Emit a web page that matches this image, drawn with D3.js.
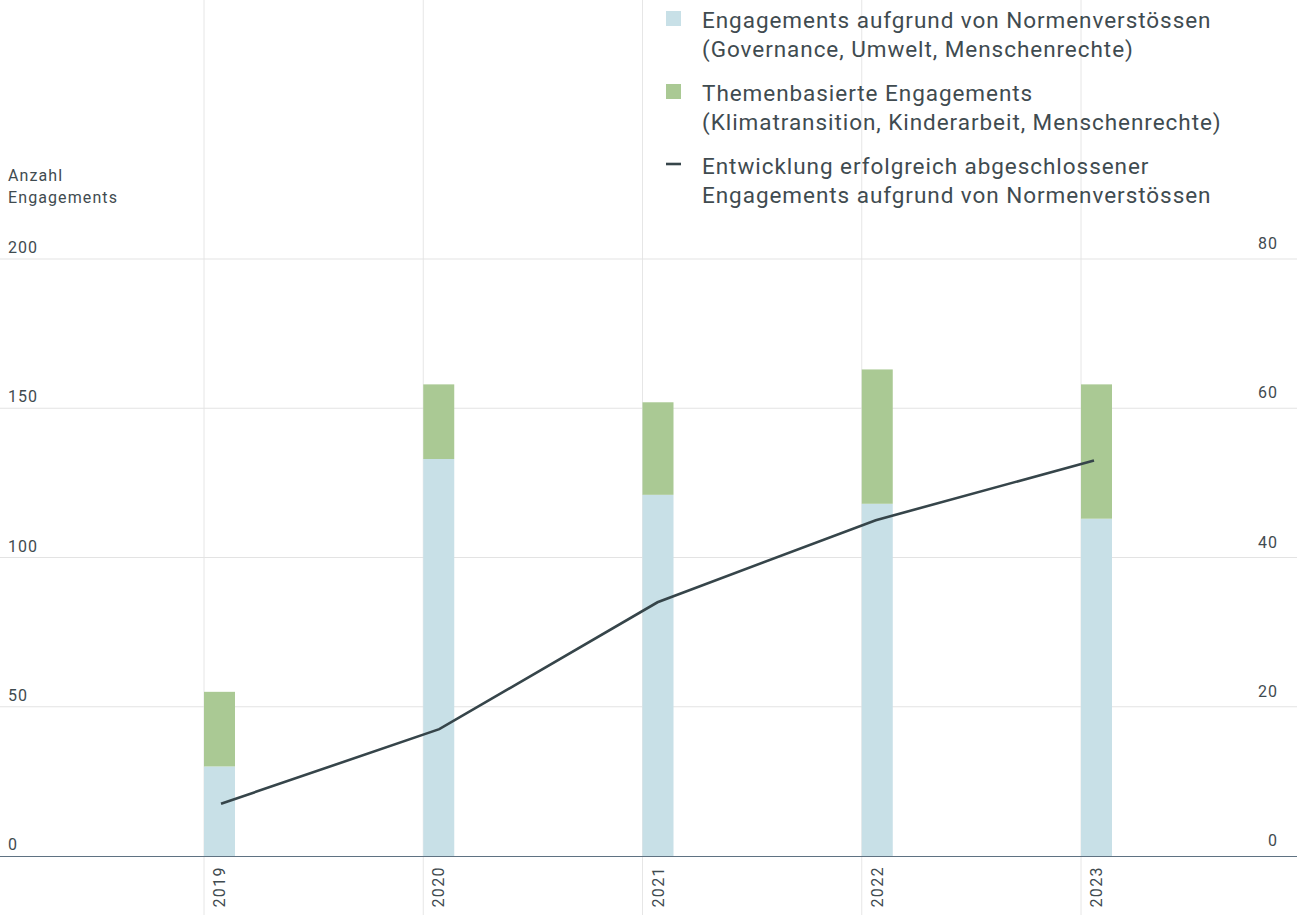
<!DOCTYPE html>
<html><head><meta charset="utf-8">
<script src="https://cdn.jsdelivr.net/npm/d3@7/dist/d3.min.js"></script>
<style>
html,body{margin:0;padding:0;background:#fff;overflow:hidden;}
svg{display:block;font-family:Roboto,"Noto Sans",sans-serif;}
</style></head>
<body>
<script>
const years = ["2019","2020","2021","2022","2023"];
const normBased = [30, 133, 121, 118, 113];
const themeBased = [25, 25, 31, 45, 45];
const completed = [7, 17, 34, 45, 53];
const leftTicks = [0, 50, 100, 150, 200];
const rightTicks = [0, 20, 40, 60, 80];
const legendItems = [
  {type:"rect", color:"#c8e0e7", lines:["Engagements aufgrund von Normenverstössen","(Governance, Umwelt, Menschenrechte)"]},
  {type:"rect", color:"#aac994", lines:["Themenbasierte Engagements","(Klimatransition, Kinderarbeit, Menschenrechte)"]},
  {type:"line", color:"#36454a", lines:["Entwicklung erfolgreich abgeschlossener","Engagements aufgrund von Normenverstössen"]}
];

const W = 1297, H = 915;
const textColor = "#3f4b50";
const svg = d3.select("body").append("svg").attr("width", W).attr("height", H);

const x = d3.scalePoint().domain(years).range([204, 1081]);
const barW = 31;
const yL = d3.scaleLinear().domain([0, 200]).range([856, 259]);
const yR = d3.scaleLinear().domain([0, 80]).range([856, 259]);

// vertical gridlines
svg.append("g").selectAll("line").data(years).join("line")
  .attr("x1", d => x(d)).attr("x2", d => x(d))
  .attr("y1", 0).attr("y2", H)
  .attr("stroke", "#e6e6e6").attr("stroke-width", 1);

// horizontal gridlines
svg.append("g").selectAll("line").data(leftTicks.filter(t => t > 0)).join("line")
  .attr("x1", 0).attr("x2", W)
  .attr("y1", d => yL(d)).attr("y2", d => yL(d))
  .attr("stroke", "#e3e3e3").attr("stroke-width", 1);

// left tick labels
svg.append("g").selectAll("text").data(leftTicks).join("text")
  .attr("x", 8).attr("y", d => yL(d) - 6)
  .attr("fill", textColor).attr("font-size", 16).attr("letter-spacing", 1)
  .text(d => d);

// right tick labels
svg.append("g").selectAll("text").data(rightTicks).join("text")
  .attr("x", 1278).attr("y", d => yR(d) - 10)
  .attr("text-anchor", "end")
  .attr("fill", textColor).attr("font-size", 16).attr("letter-spacing", 1)
  .text(d => d);

// left axis title
svg.append("text").attr("x", 8).attr("y", 181)
  .attr("fill", textColor).attr("font-size", 16).attr("letter-spacing", 1.1)
  .selectAll("tspan").data(["Anzahl", "Engagements"]).join("tspan")
  .attr("x", 8).attr("dy", (d, i) => i ? 22 : 0).text(d => d);

// bars
const stack = years.map((yr, i) => ({yr, n: normBased[i], t: themeBased[i]}));
const gb = svg.append("g");
gb.selectAll("rect.n").data(stack).join("rect").attr("class", "n")
  .attr("x", d => x(d.yr)).attr("width", barW)
  .attr("y", d => yL(d.n)).attr("height", d => yL(0) - yL(d.n))
  .attr("fill", "#c8e0e7");
gb.selectAll("rect.t").data(stack).join("rect").attr("class", "t")
  .attr("x", d => x(d.yr)).attr("width", barW)
  .attr("y", d => yL(d.n + d.t)).attr("height", d => yL(d.n) - yL(d.n + d.t))
  .attr("fill", "#aac994");

// baseline
svg.append("line").attr("x1", 0).attr("x2", W).attr("y1", 856.5).attr("y2", 856.5)
  .attr("stroke", "#5f7282").attr("stroke-width", 1.2);

// line
const line = d3.line().x((d, i) => x(years[i]) + 17 - i).y(d => yR(d));
svg.append("path").datum(completed).attr("d", line)
  .attr("fill", "none").attr("stroke", "#36454a").attr("stroke-width", 2.6);

// x labels
svg.append("g").selectAll("text").data(years).join("text")
  .attr("transform", d => `translate(${x(d) + 21},866) rotate(-90)`)
  .attr("text-anchor", "end")
  .attr("fill", textColor).attr("font-size", 16).attr("letter-spacing", 1.4)
  .text(d => d);

// cut-off right axis title at bottom
svg.append("text").attr("x", 1148).attr("y", 926)
  .attr("fill", textColor).attr("font-size", 15).attr("letter-spacing", 1)
  .text("Anzahl abgeschlossene");

// legend
const lg = svg.append("g");
legendItems.forEach((it, i) => {
  const top = 28 + i * 73;
  if (it.type === "rect") {
    lg.append("rect").attr("x", 666).attr("y", top - 17).attr("width", 15).attr("height", 15).attr("fill", it.color);
  } else {
    lg.append("line").attr("x1", 666).attr("x2", 681).attr("y1", top - 10).attr("y2", top - 10)
      .attr("stroke", it.color).attr("stroke-width", 2.6);
  }
  lg.append("text").attr("fill", textColor).attr("font-size", 22.5).attr("letter-spacing", 0.95)
    .selectAll("tspan").data(it.lines).join("tspan")
    .attr("x", 702).attr("y", (d, j) => top + j * 29).text(d => d);
});
</script>
</body></html>
